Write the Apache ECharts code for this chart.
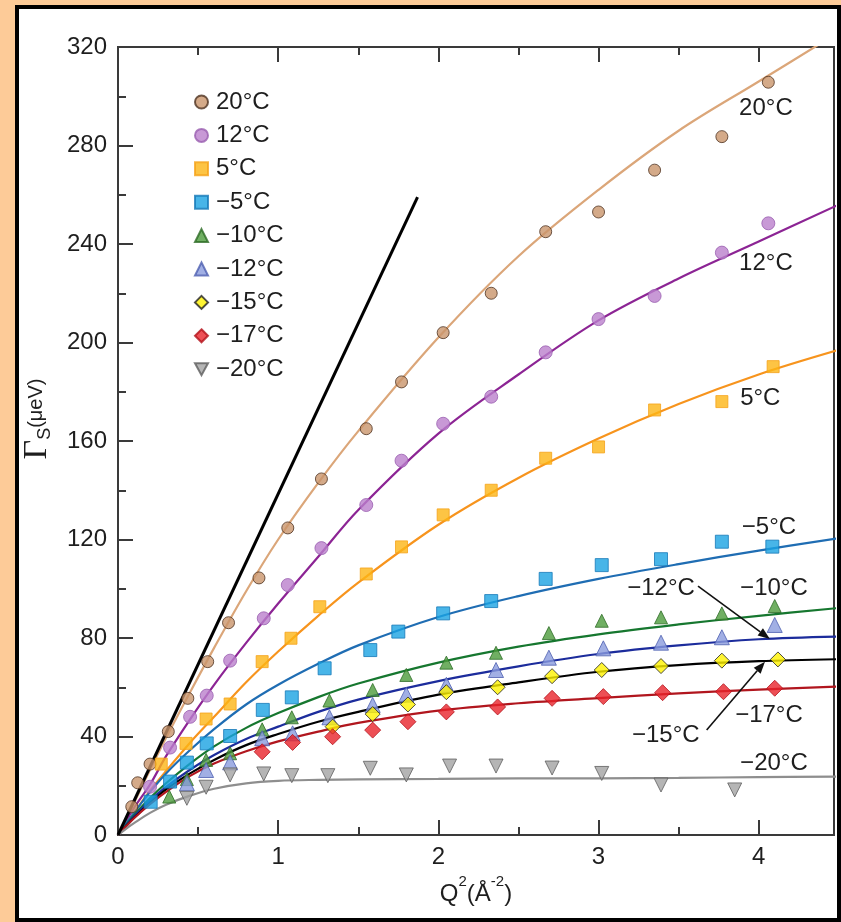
<!DOCTYPE html>
<html>
<head>
<meta charset="utf-8">
<script src="https://cdn.jsdelivr.net/npm/echarts/dist/echarts.min.js"></script>
<style>
  html, body { margin: 0; padding: 0; background: #FDCB98; }
  #panel { position: absolute; left: 15px; top: 5px; width: 818px; height: 909px; border: 4px solid #000; background: #fff; }
  #chart { position: absolute; left: 0; top: 0; width: 841px; height: 922px; }
</style>
</head>
<body>
<div id="panel"></div>
<div id="chart"></div>
<script>
// Relaxation rate Γs versus Q² at several temperatures

const tempNames = ['20°C', '12°C', '5°C', '−5°C', '−10°C', '−12°C', '−15°C', '−17°C', '−20°C'];

// measured points
const q2_20 = [0.086, 0.123, 0.2, 0.314, 0.436, 0.56, 0.69, 0.88, 1.06, 1.27, 1.55, 1.77, 2.03, 2.33, 2.67, 3.0, 3.35, 3.77, 4.06];
const gs_20 = [11.5, 21.2, 28.8, 42.0, 55.5, 70.4, 86.2, 104.4, 124.7, 144.6, 165, 184, 204, 220, 245, 253, 270, 283.6, 305.7];

const q2_12 = [0.2, 0.325, 0.45, 0.554, 0.70, 0.91, 1.06, 1.27, 1.55, 1.77, 2.03, 2.33, 2.67, 3.0, 3.35, 3.77, 4.06];
const gs_12 = [19.6, 35.5, 48, 56.6, 70.8, 88, 101.5, 116.5, 134, 152, 167, 178, 196, 209.5, 218.9, 236.5, 248.4];

const q2_5 = [0.27, 0.425, 0.55, 0.70, 0.90, 1.08, 1.26, 1.55, 1.77, 2.03, 2.33, 2.67, 3.0, 3.35, 3.77, 4.09];
const gs_5 = [28.8, 37.2, 47.1, 53.2, 70.4, 79.9, 92.7, 106, 117, 130, 140, 153, 157.6, 172.6, 176, 190.2];

const q2_m5 = [0.204, 0.325, 0.43, 0.554, 0.70, 0.904, 1.085, 1.29, 1.575, 1.75, 2.03, 2.33, 2.67, 3.02, 3.39, 3.77, 4.085];
const gs_m5 = [13.5, 21.7, 29.4, 37.2, 40.2, 50.8, 55.9, 67.7, 75.1, 82.6, 90, 95, 104, 109.6, 112, 119.1, 117.1];

const q2_m10 = [0.32, 0.43, 0.55, 0.70, 0.90, 1.085, 1.32, 1.59, 1.80, 2.05, 2.36, 2.69, 3.02, 3.39, 3.77, 4.1];
const gs_m10 = [15.6, 22.7, 30.5, 33.2, 42.9, 47.8, 54.6, 58.9, 65, 70, 74, 82, 87, 88.4, 90, 93];

const q2_m12 = [0.43, 0.55, 0.70, 0.90, 1.09, 1.32, 1.59, 1.80, 2.05, 2.36, 2.69, 3.03, 3.39, 3.77, 4.1];
const gs_m12 = [21, 26.4, 29.5, 39.3, 41.3, 47.8, 52.8, 57, 61, 67, 72, 75.8, 78.1, 80.3, 85.3];

const q2_m15 = [1.34, 1.59, 1.81, 2.05, 2.37, 2.71, 3.02, 3.39, 3.77, 4.12];
const gs_m15 = [44, 49.1, 53, 58, 60, 64.5, 67, 68.6, 70.8, 71.3];

const q2_m17 = [0.90, 1.09, 1.34, 1.59, 1.81, 2.05, 2.37, 2.71, 3.03, 3.4, 3.78, 4.1];
const gs_m17 = [33.8, 37.6, 39.9, 42.6, 46, 50, 52, 55.5, 56.2, 57.8, 58.2, 59.6];

const q2_m20 = [0.43, 0.55, 0.70, 0.91, 1.085, 1.31, 1.575, 1.8, 2.07, 2.36, 2.71, 3.02, 3.39, 3.85];
const gs_m20 = [14.9, 19.4, 24.4, 24.8, 24.1, 24.1, 27.1, 24.4, 28, 28, 27.2, 25, 20.3, 18.3];

// fitted curves, sampled on a common Q² grid
const q2_fit = [0, 0.05, 0.1, 0.2, 0.3, 0.45, 0.6, 0.8, 1, 1.25, 1.5, 2, 2.5, 3, 3.5, 4, 4.5];
const fit_20  = [0, 6.5, 13, 26.5, 39.5, 58, 76, 99, 120, 143, 164, 202, 235, 262, 286, 306, 326];
const fit_12  = [0, 5.5, 11, 20.5, 32, 47, 61, 78, 94, 113, 132, 163, 187, 209, 226, 241, 256];
const fit_5   = [0, 4.5, 9, 18, 26, 37.5, 48, 62, 74.5, 89, 102.5, 126, 145, 161, 175, 187, 197];
const fit_m5  = [0, 4.6, 9, 17.5, 25, 34.5, 43, 53, 61, 69.5, 77, 88.5, 97, 104, 110, 115.5, 120.5];
const fit_m10 = [0, 4, 8, 15, 21, 29, 36, 43.5, 49.5, 56, 61.5, 70, 76.5, 81.5, 85.5, 89, 92.2];
const fit_m12 = [0, 3.8, 7.5, 14, 19.5, 26.5, 32.5, 39, 44, 50, 55, 62.5, 68.5, 73.5, 77, 79.5, 80.6];
const fit_m15 = [0, 3.6, 7, 13, 18.5, 25, 30.5, 36.5, 41, 46, 50, 57, 62, 66.3, 69, 70.6, 71.4];
const fit_m17 = [0, 3.5, 6.8, 12.5, 17.5, 24, 29, 34, 38, 42, 45.5, 50.5, 53.5, 55.6, 57.5, 59, 60.3];
const fit_m20 = [0, 2.5, 4.8, 9, 12.3, 16, 18.8, 21, 22, 22.4, 22.6, 22.8, 23, 23, 23.2, 23.5, 23.7];

// free-diffusion reference line
const q2_ref = [0, 1.87];
const gs_ref = [0, 259];

const pointsQ2 = [q2_20, q2_12, q2_5, q2_m5, q2_m10, q2_m12, q2_m15, q2_m17, q2_m20];
const pointsGs = [gs_20, gs_12, gs_5, gs_m5, gs_m10, gs_m12, gs_m15, gs_m17, gs_m20];
const fitsGs = [fit_20, fit_12, fit_5, fit_m5, fit_m10, fit_m12, fit_m15, fit_m17, fit_m20];

const DOWN_TRIANGLE = 'path://M0,0 L12,0 L6,11 Z';

// marker and curve appearance per temperature
const looks = [
  { symbol: 'circle',      size: 12, fill: '#C9956B', edge: '#4E3220', line: '#DBA679' },
  { symbol: 'circle',      size: 13, fill: '#BA80CC', edge: '#9A5FB0', line: '#8C2494' },
  { symbol: 'rect',        size: 12, fill: '#FDB515', edge: '#F5A31A', line: '#F7941D' },
  { symbol: 'rect',        size: 13, fill: '#1AA3E2', edge: '#1679B8', line: '#1F6DB3' },
  { symbol: 'triangle',    size: 13, fill: '#4C9B3C', edge: '#2D6B25', line: '#16772F' },
  { symbol: 'triangle',    size: 15, fill: '#8A9BDD', edge: '#4E5FB0', line: '#1C2C9C' },
  { symbol: 'diamond',     size: 15, fill: '#FFF200', edge: '#222222', line: '#000000' },
  { symbol: 'diamond',     size: 16, fill: '#E8232B', edge: '#B3121A', line: '#B1161E' },
  { symbol: DOWN_TRIANGLE, size: 14, fill: '#A3A3A3', edge: '#5E5E5E', line: '#8E8E8E' }
];

const FONT = "'Liberation Sans', Arial, Helvetica, sans-serif";
const FS = 24;

const chart = echarts.init(document.getElementById('chart'), null, { renderer: 'canvas' });

const series = [];
fitsGs.forEach((fit, i) => {
  series.push({
    name: tempNames[i] + ' fit',
    type: 'line',
    data: q2_fit.map((q, k) => [q, fit[k]]),
    smooth: 0.35,
    showSymbol: false,
    symbol: 'none',
    clip: true,
    lineStyle: { color: looks[i].line, width: 2.2 },
    silent: true,
    z: 3
  });
});
series.push({
  name: 'reference',
  type: 'line',
  data: q2_ref.map((q, k) => [q, gs_ref[k]]),
  symbol: 'none',
  lineStyle: { color: '#000', width: 3 },
  silent: true,
  z: 3
});
pointsGs.forEach((gs, i) => {
  const lk = looks[i];
  series.push({
    name: tempNames[i],
    type: 'scatter',
    data: pointsQ2[i].map((q, k) => [q, gs[k]]),
    symbol: lk.symbol,
    symbolSize: lk.size,
    itemStyle: { color: lk.fill, borderColor: lk.edge, borderWidth: 1 },
    z: 5
  });
});

const tickStyle = { color: '#3a3a3a', width: 2 };
const xBase = { type: 'value', min: 0, max: 4.47, gridIndex: 0, splitLine: { show: false } };

const option = {
  animation: false,
  grid: { left: 118, top: 47, right: 7, bottom: 87, show: true, borderColor: '#3a3a3a', borderWidth: 2, outerBoundsMode: 'none' },
  legend: {
    data: tempNames,
    orient: 'vertical',
    left: 189,
    top: 85,
    itemWidth: 13,
    itemHeight: 13,
    itemGap: 9.4,
    textStyle: { fontFamily: FONT, fontSize: FS, color: '#1e1e1e', lineHeight: 24, padding: [0, 0, 0, 3] },
    selectedMode: false
  },
  xAxis: [
    Object.assign({}, xBase, {
      position: 'bottom', interval: 1,
      axisLine: { show: true, onZero: false, lineStyle: tickStyle },
      axisTick: { show: true, inside: true, length: 15, lineStyle: tickStyle },
      axisLabel: {
        show: true, margin: 10, fontFamily: FONT, fontSize: FS, color: '#1e1e1e',
        formatter: v => (Math.abs(v - Math.round(v)) < 1e-9 ? String(Math.round(v)) : '')
      },
      name: '{b|Q}{sup|2}{b|(Å}{sup|-2}{b|)}',
      nameLocation: 'middle',
      nameGap: 33,
      nameTextStyle: {
        rich: {
          b: { fontFamily: FONT, fontSize: FS, color: '#1e1e1e', lineHeight: 32, verticalAlign: 'bottom' },
          sup: { fontFamily: FONT, fontSize: 15, color: '#1e1e1e', lineHeight: 32, verticalAlign: 'top' }
        }
      }
    }),
    Object.assign({}, xBase, {
      position: 'bottom', interval: 0.5,
      axisLine: { show: false, onZero: false },
      axisTick: { show: true, inside: true, length: 8, lineStyle: tickStyle },
      axisLabel: { show: false }
    }),
    Object.assign({}, xBase, {
      position: 'top', interval: 1,
      axisLine: { show: true, onZero: false, lineStyle: tickStyle },
      axisTick: { show: true, inside: true, length: 15, lineStyle: tickStyle },
      axisLabel: { show: false }
    }),
    Object.assign({}, xBase, {
      position: 'top', interval: 0.5,
      axisLine: { show: false, onZero: false },
      axisTick: { show: true, inside: true, length: 8, lineStyle: tickStyle },
      axisLabel: { show: false }
    })
  ],
  yAxis: [{
    type: 'value', min: 0, max: 320, interval: 40,
    position: 'left',
    splitLine: { show: false },
    axisLine: { show: true, onZero: false, lineStyle: tickStyle },
    axisTick: { show: true, inside: true, length: 15, lineStyle: tickStyle },
    minorTick: { show: true, splitNumber: 2, length: 8, lineStyle: tickStyle },
    axisLabel: { margin: 11, fontFamily: FONT, fontSize: FS, color: '#1e1e1e' },
    name: '{g|Γ}{s|S}{u|(μeV)}',
    nameLocation: 'middle',
    nameRotate: 90,
    nameGap: 64,
    nameTextStyle: {
      padding: [0, 0, 0, 44],
      rich: {
        g: { fontFamily: "'Liberation Serif', 'Times New Roman', serif", fontSize: 34, color: '#1e1e1e', lineHeight: 36, verticalAlign: 'bottom' },
        s: { fontFamily: FONT, fontSize: 18, color: '#1e1e1e', lineHeight: 36, verticalAlign: 'bottom' },
        u: { fontFamily: FONT, fontSize: 20, color: '#1e1e1e', lineHeight: 36, verticalAlign: 'middle' }
      }
    }
  }],
  series: series
};

chart.setOption(option);

// in-plot temperature labels and arrows, anchored in data coordinates
const tagText = ['20°C', '12°C', '5°C', '−5°C', '−10°C', '−12°C', '−17°C', '−15°C', '−20°C'];
const tagAt = [[4.045, 295.2], [4.045, 232.3], [4.01, 177.5], [4.064, 125.1], [4.095, 100.3], [3.39, 100.3], [4.064, 48.7], [3.42, 40.6], [4.095, 29.2]];
const arrows = [
  { from: [3.621, 101.1], to: [4.07, 79.6] },
  { from: [3.675, 42.6], to: [4.039, 70.4] }
];

const toPx = p => chart.convertToPixel({ xAxisIndex: 0, yAxisIndex: 0 }, p);
const graphics = [];
tagText.forEach((t, i) => {
  const p = toPx(tagAt[i]);
  graphics.push({
    type: 'text', x: p[0], y: p[1], z: 10,
    style: { text: t, fontFamily: FONT, fontSize: FS, fill: '#1e1e1e', align: 'center', verticalAlign: 'middle' }
  });
});
arrows.forEach(a => {
  const p0 = toPx(a.from), p1 = toPx(a.to);
  const dx = p1[0] - p0[0], dy = p1[1] - p0[1];
  const len = Math.hypot(dx, dy), ux = dx / len, uy = dy / len;
  const headL = 12, headW = 4.5;
  const bx = p1[0] - ux * headL, by = p1[1] - uy * headL;
  graphics.push({
    type: 'line', z: 10,
    shape: { x1: p0[0], y1: p0[1], x2: bx, y2: by },
    style: { stroke: '#111', lineWidth: 1.6 }
  });
  graphics.push({
    type: 'polygon', z: 10,
    shape: { points: [[p1[0], p1[1]], [bx - uy * headW, by + ux * headW], [bx + uy * headW, by - ux * headW]] },
    style: { fill: '#111' }
  });
});
chart.setOption({ graphic: graphics });
</script>
</body>
</html>
